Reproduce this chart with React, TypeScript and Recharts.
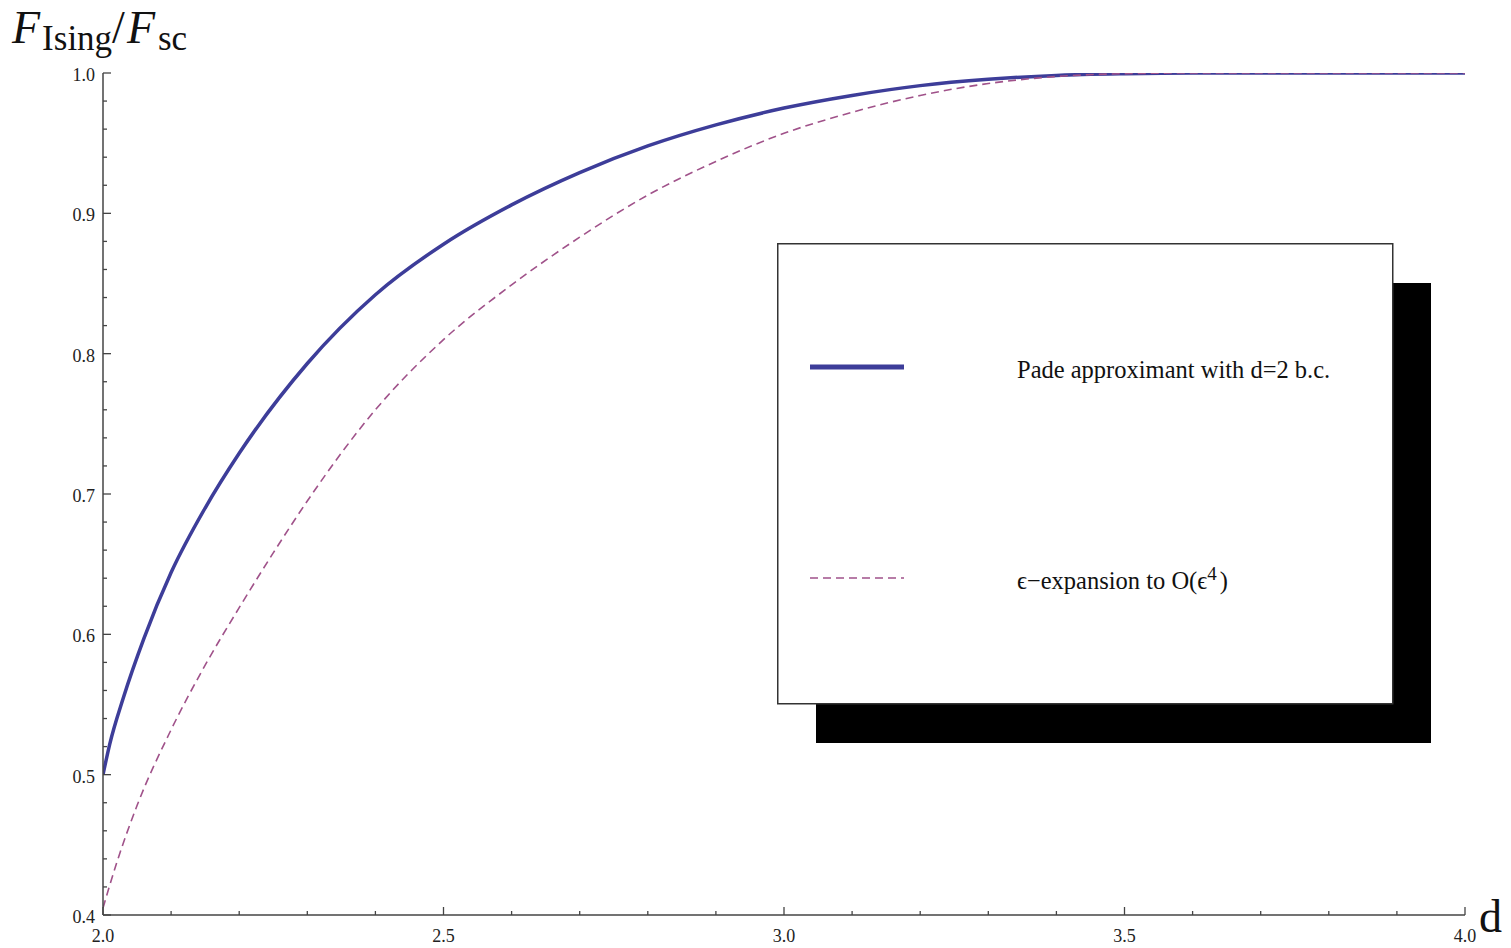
import React from 'react';
import { LineChart, Line, XAxis, YAxis, Legend } from 'recharts';

// Pade curve (d, value)
const padeD = [
  2.0, 2.01, 2.03, 2.06, 2.1, 2.15, 2.2, 2.3, 2.4, 2.5, 2.6, 2.7, 2.8, 2.9, 3.0, 3.1, 3.2, 3.3,
  3.4, 3.5, 3.6, 3.7, 3.8, 3.9, 4.0,
];
const padeValues = [
  0.5, 0.522, 0.555, 0.597, 0.644, 0.69, 0.729, 0.793, 0.842, 0.878, 0.906, 0.929, 0.948, 0.963,
  0.975, 0.984, 0.991, 0.9955, 0.9983, 0.9995, 1.0, 1.0, 1.0, 1.0, 1.0,
];

// epsilon-expansion curve
const epsD = [
  2.0, 2.02, 2.05, 2.1, 2.15, 2.2, 2.25, 2.3, 2.4, 2.5, 2.6, 2.7, 2.8, 2.9, 3.0, 3.1, 3.2, 3.3,
  3.4, 3.5, 3.6, 3.7, 3.8, 3.9, 4.0,
];
const epsValues = [
  0.405, 0.437, 0.478, 0.532, 0.578, 0.619, 0.658, 0.695, 0.76, 0.81, 0.849, 0.883, 0.913, 0.937,
  0.957, 0.972, 0.984, 0.9925, 0.9975, 0.9995, 1.0, 1.0, 1.0, 1.0, 1.0,
];

const xTicks = [
  2.0, 2.1, 2.2, 2.3, 2.4, 2.5, 2.6, 2.7, 2.8, 2.9, 3.0, 3.1, 3.2, 3.3, 3.4, 3.5, 3.6, 3.7, 3.8,
  3.9, 4.0,
];
const yTicks = [
  0.4, 0.42, 0.44, 0.46, 0.48, 0.5, 0.52, 0.54, 0.56, 0.58, 0.6, 0.62, 0.64, 0.66, 0.68, 0.7,
  0.72, 0.74, 0.76, 0.78, 0.8, 0.82, 0.84, 0.86, 0.88, 0.9, 0.92, 0.94, 0.96, 0.98, 1.0,
];

const padeName = 'Pade approximant with d=2 b.c.';
const epsName = 'ϵ−expansion to O(ϵ^4)';

const padeData = padeD.map((d, i) => ({ d, pade: padeValues[i] }));
const epsData = epsD.map((d, i) => ({ d, eps: epsValues[i] }));

const serif = '"Liberation Serif", "DejaVu Serif", serif';
const axisColor = '#444';

const XTick = (props: any) => {
  const { x, y, payload } = props;
  const v = payload.value;
  const major = Math.abs(v * 2 - Math.round(v * 2)) < 1e-6;
  return (
    <g>
      <line x1={x} y1={y} x2={x} y2={y - (major ? 8 : 4)} stroke={axisColor} strokeWidth={1.3} />
      {major && (
        <text x={x} y={y + 27} textAnchor="middle" fontSize={18} fontFamily={serif} fill="#222">
          {v.toFixed(1)}
        </text>
      )}
    </g>
  );
};

const YTick = (props: any) => {
  const { x, y, payload } = props;
  const v = payload.value;
  const major = Math.abs(v * 10 - Math.round(v * 10)) < 1e-6;
  return (
    <g>
      <line x1={x} y1={y} x2={x + (major ? 8 : 4)} y2={y} stroke={axisColor} strokeWidth={1.3} />
      {major && (
        <text x={x - 8} y={y + 8} textAnchor="end" fontSize={18} fontFamily={serif} fill="#222">
          {v.toFixed(1)}
        </text>
      )}
    </g>
  );
};

const renderLabelText = (name: string) => {
  const parts = name.split(/\^(\d)/);
  if (parts.length < 3) return name;
  return (
    <>
      {parts[0]}
      <tspan dy={-9} fontSize={19}>{parts[1]}</tspan>
      <tspan dy={9} dx={3}>{parts[2]}</tspan>
    </>
  );
};

const renderLegend = (props: any) => {
  const items = props.payload || [];
  const rows = ['pade', 'eps'];
  return (
    <svg width={660} height={505} style={{ display: 'block' }}>
      <rect x={39} y={40} width={615} height={460} fill="#000" />
      <rect x={0.75} y={0.75} width={615} height={460} fill="#fff" stroke="#333" strokeWidth={1.5} />
      {rows.map((key, i) => {
        const it = items.find((p: any) => p.dataKey === key);
        if (!it) return null;
        const cy = 124 + i * 211;
        const lp = it.payload || {};
        return (
          <g key={key}>
            <line
              x1={33}
              x2={127}
              y1={cy}
              y2={cy}
              stroke={it.color}
              strokeWidth={key === 'pade' ? 5 : 1.6}
              strokeDasharray={lp.strokeDasharray}
            />
            <text x={240} y={cy + 11} fontSize={24.5} fontFamily={serif} fill="#111">
              {renderLabelText(String(it.value))}
            </text>
          </g>
        );
      })}
    </svg>
  );
};

const TitleLabel = () => (
  <text x={12} y={43} fontFamily={serif} fill="#111">
    <tspan fontStyle="italic" fontSize={46}>F</tspan>
    <tspan fontSize={35} dy={7} dx={2}>Ising</tspan>
    <tspan fontSize={46} dy={-7}>/</tspan>
    <tspan fontStyle="italic" fontSize={46} dx={2}>F</tspan>
    <tspan fontSize={35} dy={7} dx={3}>sc</tspan>
  </text>
);

const DLabel = () => (
  <text x={1479} y={932} fontFamily={serif} fontSize={46} fill="#111">
    d
  </text>
);

export default function App() {
  return (
    <div style={{ position: 'absolute', left: 0, top: 0, width: 1511, height: 948, background: '#fff' }}>
      <LineChart width={1511} height={948} margin={{ top: 73, right: 46, bottom: 8, left: 63 }}>
        <XAxis
          dataKey="d"
          type="number"
          domain={[2, 4]}
          ticks={xTicks}
          interval={0}
          height={25}
          tickSize={0}
          tickMargin={0}
          tickLine={false}
          tick={<XTick />}
          axisLine={{ stroke: axisColor, strokeWidth: 1.5 }}
          allowDataOverflow
          label={<DLabel />}
        />
        <YAxis
          type="number"
          domain={[0.4, 1.0]}
          ticks={yTicks}
          interval={0}
          width={40}
          tickSize={0}
          tickMargin={0}
          tickLine={false}
          tick={<YTick />}
          axisLine={{ stroke: axisColor, strokeWidth: 1.5 }}
          allowDataOverflow
          label={<TitleLabel />}
        />
        <Line
          data={padeData}
          type="monotone"
          dataKey="pade"
          name={padeName}
          stroke="#3d3d99"
          strokeWidth={3.5}
          dot={false}
          activeDot={false}
          isAnimationActive={false}
        />
        <Line
          data={epsData}
          type="monotone"
          dataKey="eps"
          name={epsName}
          stroke="#a0528a"
          strokeWidth={1.6}
          strokeDasharray="8 5"
          dot={false}
          activeDot={false}
          isAnimationActive={false}
        />
        <Legend
          layout="vertical"
          align="center"
          verticalAlign="middle"
          content={renderLegend}
          wrapperStyle={{ left: 777, top: 243, width: 660, height: 505, margin: 0, padding: 0 }}
        />
      </LineChart>
    </div>
  );
}
